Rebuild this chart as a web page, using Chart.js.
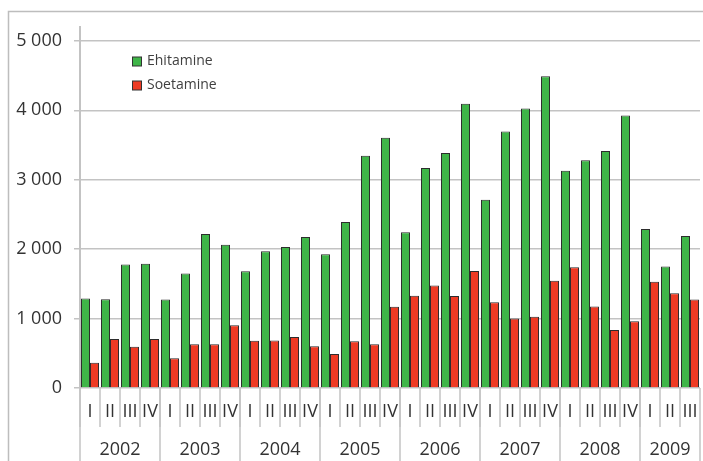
<!DOCTYPE html>
<html>
<head>
<meta charset="utf-8">
<script src="https://cdn.jsdelivr.net/npm/chart.js@4"></script>
<style>
html,body{margin:0;padding:0;background:#fff;}
#wrap{position:relative;width:703px;height:461px;}
</style>
</head>
<body>
<div id="wrap"><canvas id="c" width="703" height="461"></canvas></div>
<script>
// quarters 2002 I .. 2009 III
const quarterLabels=['I','II','III','IV','I','II','III','IV','I','II','III','IV','I','II','III','IV',
  'I','II','III','IV','I','II','III','IV','I','II','III','IV','I','II','III'];
const yearLabels=['2002','2003','2004','2005','2006','2007','2008','2009'];
const yearSpans=[4,4,4,4,4,4,4,3];
const ehitamine=[1290,1280,1780,1790, 1275,1650,2220,2065, 1680,1970,2030,2175, 1925,2390,3345,3605,
  2245,3170,3385,4095, 2710,3695,4025,4490, 3130,3280,3415,3925, 2290,1750,2190];
const soetamine=[365,705,595,705, 430,630,630,905, 680,685,735,600, 490,675,630,1170,
  1330,1475,1325,1685, 1235,1000,1025,1545, 1740,1175,835,960, 1530,1365,1275];
const yTicks=[0,1000,2000,3000,4000,5000];

const GREEN='#3fb548', RED='#ee3b24', LINE='#c3c3c3', TXT='#333';
const FONT='"Open Sans", sans-serif';

function fmtK(v){return String(v).replace(/\B(?=(\d{3})+(?!\d))/g,' ');}

const extras={
  id:'extras',
  beforeDraw(chart){
    const ctx=chart.ctx;
    ctx.save();
    ctx.strokeStyle='#bdbdbd';ctx.lineWidth=1.5;
    ctx.strokeRect(8.5,11.5,900,700);
    ctx.restore();
  },
  afterDraw(chart){
    const ctx=chart.ctx, x=chart.scales.x, a=chart.chartArea;
    const n=quarterLabels.length, w=(a.right-a.left)/n;
    const b=a.bottom, qBottom=b+39, H=chart.height;
    ctx.save();
    ctx.strokeStyle=LINE;ctx.lineWidth=1.5;
    // quarter separators and labels
    ctx.fillStyle=TXT;ctx.font='18px '+FONT;ctx.textAlign='center';ctx.textBaseline='middle';
    for(let i=0;i<n;i++){
      const cx=x.getPixelForValue(i);
      const left=cx-w/2;
      ctx.beginPath();ctx.moveTo(left,b);ctx.lineTo(left,qBottom);ctx.stroke();
      ctx.fillText(quarterLabels[i],cx,b+24);
    }
    // year separators and labels
    ctx.font='18px '+FONT;
    let idx=0;
    yearLabels.forEach((y,k)=>{
      const start=x.getPixelForValue(idx)-w/2;
      idx+=yearSpans[k];
      const end=x.getPixelForValue(idx-1)+w/2;
      ctx.beginPath();ctx.moveTo(start,b);ctx.lineTo(start,H);ctx.stroke();
      ctx.fillText(y,(start+end)/2,b+62);
      if(k===yearLabels.length-1){ctx.beginPath();ctx.moveTo(end,b);ctx.lineTo(end,H);ctx.stroke();}
    });
    // legend
    ctx.font='14px '+FONT;ctx.textAlign='left';
    chart.data.datasets.forEach((ds,i)=>{
      const yy=61+i*24;
      ctx.fillStyle=ds.backgroundColor;ctx.fillRect(132.5,yy-4,9,9);
      ctx.strokeStyle='#333';ctx.lineWidth=1;ctx.strokeRect(132.5,yy-4,9,9);
      ctx.fillStyle='#404040';ctx.fillText(ds.label,147,yy);
    });
    ctx.restore();
  }
};

new Chart(document.getElementById('c'),{
  type:'bar',
  data:{labels:quarterLabels,datasets:[
    {label:'Ehitamine',data:ehitamine,backgroundColor:GREEN,borderColor:'#2d2d2d',borderWidth:1},
    {label:'Soetamine',data:soetamine,backgroundColor:RED,borderColor:'#2d2d2d',borderWidth:1}
  ]},
  options:{
    responsive:false,animation:false,
    layout:{padding:{left:0,top:27,right:3,bottom:0}},
    datasets:{bar:{categoryPercentage:0.9,barPercentage:1}},
    plugins:{legend:{display:false},tooltip:{enabled:false}},
    scales:{
      x:{grid:{display:false,drawTicks:false},border:{display:false},ticks:{display:false},
        afterFit(s){s.height=73;}},
      y:{min:0,max:5200,
        afterBuildTicks(s){s.ticks=yTicks.map(v=>({value:v}));},
        afterFit(s){s.width=80;},
        grid:{color:LINE,lineWidth:1.5,tickLength:6},
        border:{color:LINE,width:2},
        ticks:{color:TXT,padding:12,font:{family:FONT,size:18},callback:v=>fmtK(v)}}
    }
  },
  plugins:[extras]
});
</script>
</body>
</html>
